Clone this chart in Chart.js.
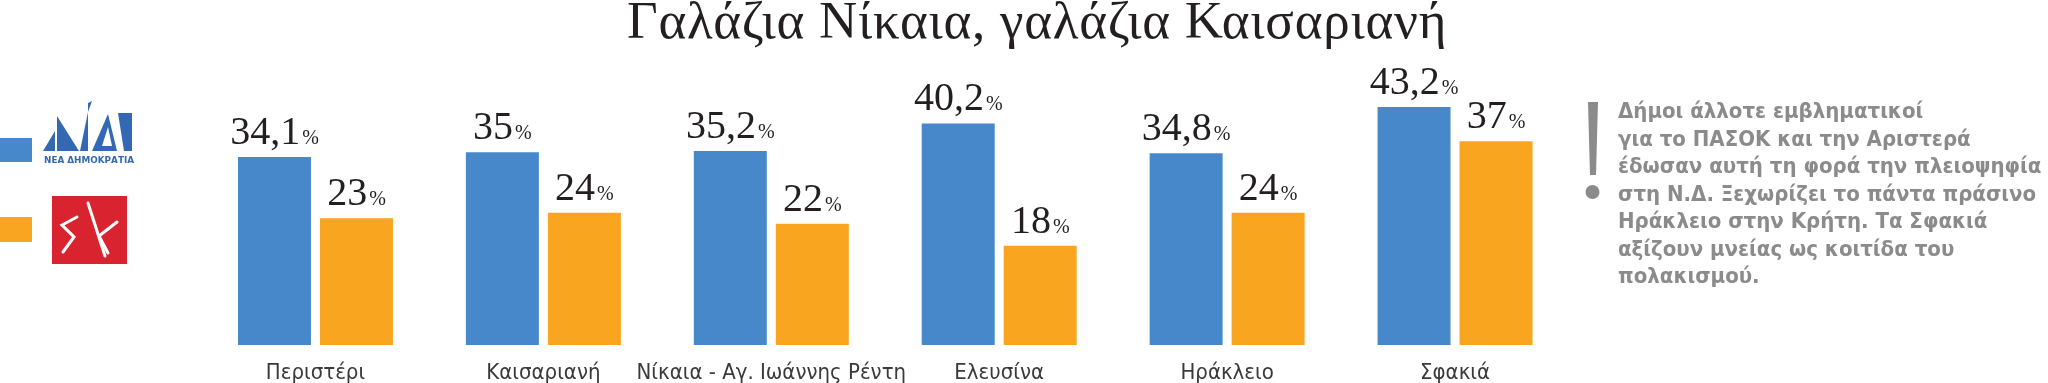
<!DOCTYPE html>
<html><head><meta charset="utf-8">
<script src="https://cdn.jsdelivr.net/npm/chart.js@4.4.1/dist/chart.umd.min.js"></script>
<style>
html,body{margin:0;padding:0;background:#fff;width:2048px;height:383px;overflow:hidden;position:relative}
#c{position:absolute;left:0;top:0}
.title{position:absolute;left:627px;top:-6px;font-family:"Liberation Serif",serif;font-size:53px;line-height:53px;letter-spacing:0.75px;color:#231f20;white-space:nowrap}
.note{position:absolute;left:1618px;top:97px;font-family:"DejaVu Sans Condensed","DejaVu Sans",sans-serif;font-weight:bold;font-size:22px;line-height:27.5px;color:#8b8b8b;white-space:nowrap}
</style></head>
<body>
<canvas id="c" width="2048" height="383"></canvas>
<div class="title" id="title">Γαλάζια Νίκαια, γαλάζια Καισαριανή</div>
<svg style="position:absolute;left:0;top:0" width="200" height="300">
  <rect x="0" y="138" width="32" height="24" fill="#4688c9"/>
  <rect x="0" y="217" width="32" height="25" fill="#f9a51f"/>
  <g fill="#3368b4">
    <polygon points="43,151 55,151 55,131"/>
    <polygon points="57,116 57,151 79,151"/>
    <polygon points="80,151 88,151 88,103 92,101 88,112"/>
    <polygon points="92,151 117,151 108,114"/>
    <polygon points="118,113 132,113 132,151 124,151"/>
  </g>
  <polygon points="102,146 112,146 108,127" fill="#fff"/>
  <text x="44" y="163" font-family="DejaVu Sans" font-weight="bold" font-size="8" fill="#3368b4" textLength="90" lengthAdjust="spacingAndGlyphs">ΝΕΑ ΔΗΜΟΚΡΑΤΙΑ</text>
  <rect x="52" y="196" width="75" height="68" fill="#d9232e"/>
  <g stroke="#fff" stroke-width="3" fill="none" stroke-linecap="round" stroke-linejoin="miter">
    <polyline points="77,217 62,225 74,237 63,252"/>
    <line x1="88" y1="203" x2="105" y2="256"/>
    <polyline points="117,222 99,236 108,253"/>
  </g>
</svg>
<svg style="position:absolute;left:1580px;top:95px" width="30" height="110">
  <polygon points="8,7 18,7 16,80 10,80" fill="#8b8b8b"/>
  <circle cx="12.5" cy="97" r="7" fill="#8b8b8b"/>
</svg>
<div class="note" id="note">Δήμοι άλλοτε εμβληματικοί<br>για το ΠΑΣΟΚ και την Αριστερά<br>έδωσαν αυτή τη φορά την πλειοψηφία<br>στη Ν.Δ. Ξεχωρίζει το πάντα πράσινο<br>Ηράκλειο στην Κρήτη. Τα Σφακιά<br>αξίζουν μνείας ως κοιτίδα του<br>πολακισμού.</div>
<script>
const categories = ["Περιστέρι", "Καισαριανή", "Νίκαια - Αγ. Ιωάννης Ρέντη", "Ελευσίνα", "Ηράκλειο", "Σφακιά"];
const seriesNames = ["Νέα Δημοκρατία", "ΣΥΡΙΖΑ"];
const ndValues = [34.1, 35, 35.2, 40.2, 34.8, 43.2];
const syrizaValues = [23, 24, 22, 18, 24, 37];

const valueLabels = {
  id: 'valueLabels',
  afterDatasetsDraw(chart) {
    const ctx = chart.ctx;
    chart.data.datasets.forEach((ds, i) => {
      chart.getDatasetMeta(i).data.forEach((bar, j) => {
        const num = String(ds.data[j]).replace('.', ',');
        ctx.save();
        ctx.textAlign = 'left';
        ctx.textBaseline = 'alphabetic';
        ctx.fillStyle = '#231f20';
        ctx.font = '40px "Liberation Serif"';
        const w1 = ctx.measureText(num).width;
        ctx.font = '20px "Liberation Serif"';
        const w2 = ctx.measureText('%').width;
        const gap = 2;
        const x0 = bar.x - (w1 + gap + w2) / 2;
        const y = bar.y - 13;
        ctx.font = '40px "Liberation Serif"';
        ctx.fillText(num, x0, y);
        ctx.font = '20px "Liberation Serif"';
        ctx.fillText('%', x0 + w1 + gap, y);
        ctx.restore();
      });
    });
  }
};

new Chart(document.getElementById('c'), {
  type: 'bar',
  data: {
    labels: categories,
    datasets: [
      { label: seriesNames[0], data: ndValues, backgroundColor: '#4688c9' },
      { label: seriesNames[1], data: syrizaValues, backgroundColor: '#f9a51f' }
    ]
  },
  options: {
    responsive: false,
    devicePixelRatio: 1,
    animation: false,
    categoryPercentage: 0.7196,
    barPercentage: 0.89,
    layout: { padding: { left: 201.5, right: 479, top: 69.5, bottom: 0 } },
    plugins: { legend: { display: false }, tooltip: { enabled: false }, title: { display: false } },
    scales: {
      x: {
        grid: { display: false, drawTicks: false },
        border: { display: false },
        afterFit(scale) { scale.height = 38; },
        ticks: {
          autoSkip: false, maxRotation: 0, minRotation: 0,
          font: { family: '"Liberation Sans Narrow","DejaVu Sans Condensed",sans-serif', size: 22 },
          color: '#3a3a3a', padding: 15
        }
      },
      y: { display: false, min: 0, max: 50 }
    }
  },
  plugins: [valueLabels]
});
</script>
</body></html>
